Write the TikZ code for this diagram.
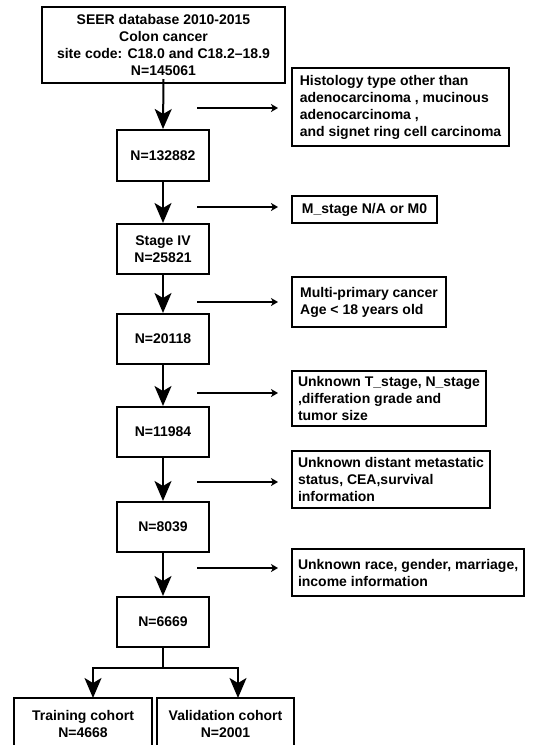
\documentclass[tikz,border=0pt]{standalone}
\usepackage{fontspec}
\setmainfont{Liberation Sans}
\usetikzlibrary{arrows.meta}
\begin{document}
\begin{tikzpicture}[x=1pt,y=-1pt,
  box/.style={draw=black,line width=2pt,inner sep=0pt,align=center,font=\fontsize{14}{17}\selectfont\bfseries},
  sidebox/.style={draw=black,line width=2pt,inner xsep=6pt,inner ysep=0pt,align=left,anchor=west,font=\fontsize{14}{17}\selectfont\bfseries},
  mainarrow/.style={line width=2pt,-{Stealth[length=20pt,width=17pt,inset=5pt]}},
  sidearrow/.style={line width=1.6pt,-{Stealth[length=7pt,width=8pt,inset=2pt]},shorten >=13pt}]
\useasboundingbox[fill=white] (0,0) rectangle (540,745);

\node[box,minimum width=243pt,minimum height=76pt] (top) at (163.5,45) {SEER database 2010-2015\\Colon cancer\\site code: C18.0 and C18.2--18.9\\N=145061};
\node[box,minimum width=92pt,minimum height=51pt] (n1) at (163,155.5) {N=132882};
\node[box,minimum width=92pt,minimum height=50pt] (n2) at (163,249) {Stage IV\\N=25821};
\node[box,minimum width=92pt,minimum height=50pt] (n3) at (163,339) {N=20118};
\node[box,minimum width=92pt,minimum height=50pt] (n4) at (163,432) {N=11984};
\node[box,minimum width=92pt,minimum height=50pt] (n5) at (163,527) {N=8039};
\node[box,minimum width=92pt,minimum height=50pt] (n6) at (163,622) {N=6669};
\node[box,minimum width=138pt,minimum height=52pt] (tr) at (83,724) {Training cohort\\N=4668};
\node[box,minimum width=137pt,minimum height=52pt] (va) at (225.5,724) {Validation cohort\\N=2001};

\node[sidebox,minimum width=217pt,minimum height=78pt] (s1) at (291,107) {Histology type other than\\adenocarcinoma , mucinous\\adenocarcinoma ,\\and signet ring cell carcinoma};
\node[sidebox,minimum width=145pt,minimum height=27pt] (s2) at (291,209.5) {M\_stage N/A or M0};
\node[sidebox,minimum width=154pt,minimum height=50pt] (s3) at (291,302) {Multi-primary cancer\\Age < 18 years old};
\node[sidebox,minimum width=194pt,minimum height=55pt] (s4) at (291,398.5) {Unknown T\_stage, N\_stage\\,differation grade and\\tumor size};
\node[sidebox,minimum width=198pt,minimum height=57pt] (s5) at (291,479.5) {Unknown distant metastatic\\status, CEA,survival\\information};
\node[sidebox,minimum width=231pt,minimum height=47pt] (s6) at (291,572.5) {Unknown race, gender, marriage,\\income information};

\draw[mainarrow] ([yshift=5pt]top.south) -- (n1.north);
\draw[mainarrow] (n1) -- (n2);
\draw[mainarrow] (n2) -- (n3);
\draw[mainarrow] (n3) -- (n4);
\draw[mainarrow] (n4) -- (n5);
\draw[mainarrow] (n5) -- (n6);

\coordinate (a1) at (197,108);
\coordinate (a2) at (197,207);
\coordinate (a3) at (197,302);
\coordinate (a4) at (197,393);
\coordinate (a5) at (197,482);
\coordinate (a6) at (197,568);
\draw[sidearrow] (a1) -- (s1.west |- a1);
\draw[sidearrow] (a2) -- (s2.west |- a2);
\draw[sidearrow] (a3) -- (s3.west |- a3);
\draw[sidearrow] (a4) -- (s4.west |- a4);
\draw[sidearrow] (a5) -- (s5.west |- a5);
\draw[sidearrow] (a6) -- (s6.west |- a6);

\coordinate (sp) at (163,668);
\draw[line width=2pt] (n6.south) -- (sp);
\draw[mainarrow] (sp) -| (93,698) coordinate (tl);
\draw[mainarrow] (sp) -| (238,698) coordinate (vl);
\end{tikzpicture}
\end{document}
